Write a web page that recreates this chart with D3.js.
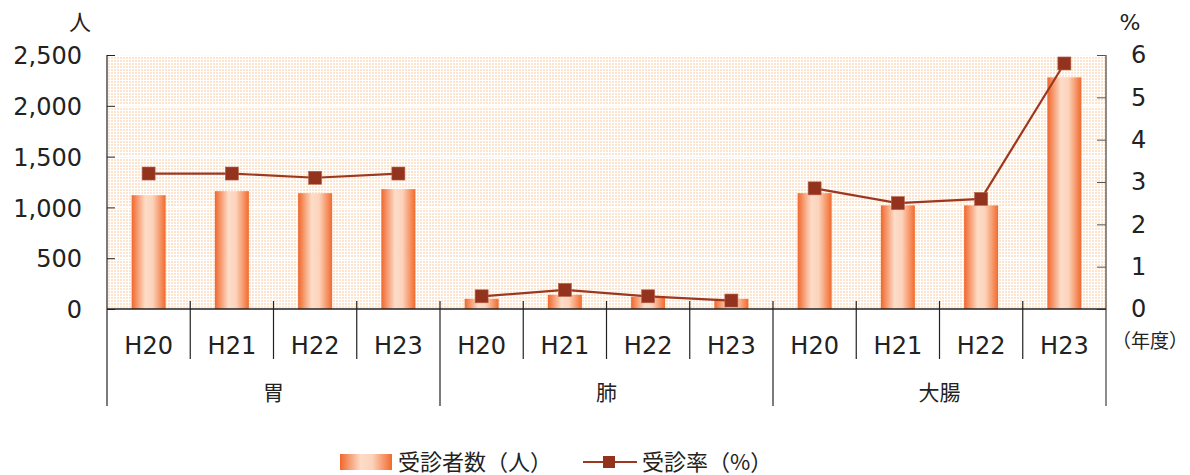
<!DOCTYPE html>
<html>
<head>
<meta charset="utf-8">
<script src="https://cdn.jsdelivr.net/npm/d3@7"></script>
<style>
  body { margin: 0; background: #fff; }
  text { font-family: "DejaVu Sans", sans-serif; fill: #222; }
  .jp { font-family: "Noto Sans CJK JP", sans-serif; }
</style>
</head>
<body>
<svg id="chart" width="1190" height="475"></svg>
<script>
// data
const groups = ["胃", "肺", "大腸"];
const years = ["H20", "H21", "H22", "H23"];
const patients = [1120, 1160, 1140, 1180, 100, 140, 120, 100, 1140, 1020, 1020, 2280];
const rates = [3.2, 3.2, 3.1, 3.2, 0.3, 0.45, 0.3, 0.2, 2.85, 2.5, 2.6, 5.8];
const leftTicks = [0, 500, 1000, 1500, 2000, 2500];
const rightTicks = [0, 1, 2, 3, 4, 5, 6];

const svg = d3.select("#chart");
const plotL = 107, plotR = 1106, plotT = 55, plotB = 309;

const slots = [];
groups.forEach((g, gi) => years.forEach((y, yi) => slots.push({ key: gi + "-" + yi, group: g, year: y, gi: gi })));

const x = d3.scaleBand().domain(slots.map(d => d.key)).range([plotL, plotR]).paddingInner(0).paddingOuter(0);
const xg = d3.scaleBand().domain(groups).range([plotL, plotR]);
const yL = d3.scaleLinear().domain([0, 2500]).range([plotB, plotT]);
const yR = d3.scaleLinear().domain([0, 6]).range([plotB, plotT]);

const defs = svg.append("defs");
const pat = defs.append("pattern").attr("id", "dots").attr("patternUnits", "userSpaceOnUse")
  .attr("width", 3).attr("height", 3);
pat.append("rect").attr("width", 3).attr("height", 3).attr("fill", "#fff");
pat.append("rect").attr("width", 2).attr("height", 2).attr("fill", "#fde4cf");

const grad = defs.append("linearGradient").attr("id", "barGrad").attr("x1", "0%").attr("x2", "100%");
grad.append("stop").attr("offset", "0%").attr("stop-color", "#f0672b");
grad.append("stop").attr("offset", "40%").attr("stop-color", "#fddcc8");
grad.append("stop").attr("offset", "62%").attr("stop-color", "#fcd3bb");
grad.append("stop").attr("offset", "100%").attr("stop-color", "#f26a2c");

// plot background
svg.append("rect").attr("x", plotL).attr("y", plotT).attr("width", plotR - plotL).attr("height", plotB - plotT)
  .attr("fill", "url(#dots)");

// white gridlines
svg.append("g").selectAll("line").data(leftTicks.slice(1)).join("line")
  .attr("x1", plotL).attr("x2", plotR)
  .attr("y1", d => yL(d)).attr("y2", d => yL(d))
  .attr("stroke", "#fff").attr("stroke-width", 1.5);

// bars
const bw = 34;
svg.append("g").selectAll("rect").data(slots).join("rect")
  .attr("x", (d, i) => x(d.key) + x.bandwidth() / 2 - bw / 2)
  .attr("width", bw)
  .attr("y", (d, i) => yL(patients[i]))
  .attr("height", (d, i) => plotB - yL(patients[i]))
  .attr("fill", "url(#barGrad)");

// rate line, one segment per group
const lineGen = d3.line().x(d => x(d.key) + x.bandwidth() / 2).y(d => yR(d.v));
groups.forEach((g, gi) => {
  const pts = slots.map((d, i) => ({ key: d.key, v: rates[i], gi: d.gi })).filter(d => d.gi === gi);
  svg.append("path").datum(pts).attr("d", lineGen)
    .attr("fill", "none").attr("stroke", "#9c3820").attr("stroke-width", 2.2);
});
svg.append("g").selectAll("rect").data(slots).join("rect")
  .attr("x", d => x(d.key) + x.bandwidth() / 2 - 6.5)
  .attr("y", (d, i) => yR(rates[i]) - 6.5)
  .attr("width", 13).attr("height", 13)
  .attr("fill", "#93331e").attr("stroke", "#b5614a").attr("stroke-width", 0.6);

// left axis
svg.append("g").attr("transform", `translate(${plotL},0)`)
  .call(d3.axisLeft(yL).tickValues(leftTicks).tickSize(-8).tickPadding(25).tickFormat(d3.format(",")))
  .call(g => g.select(".domain").remove())
  .call(g => g.selectAll("line").attr("stroke", "#222"))
  .call(g => g.selectAll("text").attr("font-size", 24).attr("fill", "#222").attr("dy", "0.36em"));
svg.append("line").attr("x1", plotL).attr("x2", plotL).attr("y1", plotT).attr("y2", 406)
  .attr("stroke", "#222").attr("stroke-width", 1.2);

// right axis
svg.append("g").attr("transform", `translate(${plotR},0)`)
  .call(d3.axisRight(yR).tickValues(rightTicks).tickSize(-9).tickPadding(25).tickFormat(d3.format("d")))
  .call(g => g.select(".domain").remove())
  .call(g => g.selectAll("line").attr("stroke", "#555"))
  .call(g => g.selectAll("text").attr("font-size", 24).attr("fill", "#222").attr("dy", "0.32em"));
svg.append("line").attr("x1", plotR).attr("x2", plotR).attr("y1", plotT).attr("y2", 406)
  .attr("stroke", "#666").attr("stroke-width", 1.5);

// x baseline
svg.append("line").attr("x1", plotL).attr("x2", plotR).attr("y1", plotB).attr("y2", plotB)
  .attr("stroke", "#222").attr("stroke-width", 1.5);

// separators
const bounds = slots.map(d => x(d.key)).slice(1);
svg.append("g").selectAll("line").data(bounds).join("line")
  .attr("x1", d => d).attr("x2", d => d)
  .attr("y1", plotB - 8)
  .attr("y2", (d, i) => ((i + 1) % years.length === 0) ? 406 : 359)
  .attr("stroke", "#222").attr("stroke-width", 1.2);

// year labels
svg.append("g").selectAll("text").data(slots).join("text")
  .attr("x", d => x(d.key) + x.bandwidth() / 2).attr("y", 354)
  .attr("text-anchor", "middle").attr("font-size", 24).text(d => d.year);

// group labels
svg.append("g").selectAll("text").data(groups).join("text")
  .attr("class", "jp")
  .attr("x", d => xg(d) + xg.bandwidth() / 2).attr("y", 400)
  .attr("text-anchor", "middle").attr("font-size", 21).text(d => d);

// unit labels
svg.append("text").attr("class", "jp").attr("x", 80).attr("y", 30).attr("text-anchor", "middle")
  .attr("font-size", 22).text("人");
svg.append("text").attr("x", 1130).attr("y", 30).attr("text-anchor", "middle")
  .attr("font-size", 22).text("%");
svg.append("text").attr("class", "jp").attr("x", 1150).attr("y", 348).attr("text-anchor", "middle")
  .attr("font-size", 19).text("（年度）");

// legend
const lg = svg.append("g").attr("transform", "translate(340,462)");
lg.append("rect").attr("x", 0).attr("y", -8).attr("width", 52).attr("height", 16).attr("fill", "url(#barGrad)");
lg.append("text").attr("class", "jp").attr("x", 58).attr("y", 8).attr("font-size", 22).text("受診者数（人）");
lg.append("line").attr("x1", 243).attr("x2", 297).attr("y1", 0).attr("y2", 0)
  .attr("stroke", "#9c3820").attr("stroke-width", 2.2);
lg.append("rect").attr("x", 263).attr("y", -6).attr("width", 12).attr("height", 12).attr("fill", "#93331e");
lg.append("text").attr("class", "jp").attr("x", 302).attr("y", 8).attr("font-size", 22).text("受診率（%）");
</script>
</body>
</html>
